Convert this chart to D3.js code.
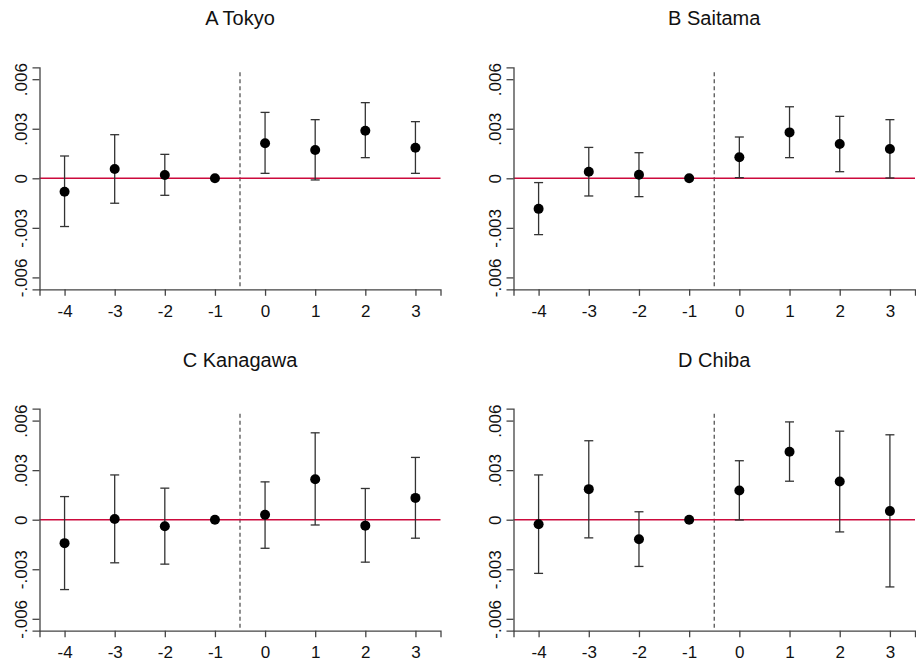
<!DOCTYPE html>
<html>
<head>
<meta charset="utf-8">
<script src="https://cdn.jsdelivr.net/npm/d3@7"></script>
<style>
  body { margin: 0; background: #fff; }
  text { font-family: "Liberation Sans", Arial, sans-serif; }
</style>
</head>
<body>
<svg id="chart" width="916" height="661"></svg>
<script>
// Event-study estimates with confidence intervals, one panel per prefecture
var periods = [-4, -3, -2, -1, 0, 1, 2, 3];
var yTicks = [-0.006, -0.003, 0, 0.003, 0.006];
var yTickLabels = ["-.006", "-.003", "0", ".003", ".006"];

var titles = ["A Tokyo", "B Saitama", "C Kanagawa", "D Chiba"];

var estTokyo = [-0.00081, 0.00056, 0.0002, 0, 0.00212, 0.00171, 0.00288, 0.00185];
var loTokyo  = [-0.00292, -0.00151, -0.00103, 0, 0.0003, -0.0001, 0.00125, 0.0003];
var hiTokyo  = [0.00135, 0.00264, 0.00145, 0, 0.00399, 0.00355, 0.00458, 0.00343];

var estSaitama = [-0.00185, 0.0004, 0.00022, 0, 0.00127, 0.00278, 0.00208, 0.00177];
var loSaitama  = [-0.00341, -0.00107, -0.00111, 0, 0.00004, 0.00125, 0.0004, 0.00002];
var hiSaitama  = [-0.00026, 0.00187, 0.00155, 0, 0.0025, 0.00433, 0.00375, 0.00355];

var estKanagawa = [-0.00142, 0.00004, -0.0004, 0, 0.0003, 0.00245, -0.00036, 0.00132];
var loKanagawa  = [-0.00423, -0.00261, -0.00269, 0, -0.00173, -0.00032, -0.00257, -0.00112];
var hiKanagawa  = [0.0014, 0.00271, 0.00191, 0, 0.00229, 0.00526, 0.00189, 0.00377];

var estChiba = [-0.00028, 0.00185, -0.00118, 0, 0.00177, 0.00411, 0.00231, 0.00052];
var loChiba  = [-0.00325, -0.0011, -0.00283, 0, -0.00002, 0.00233, -0.00074, -0.00407];
var hiChiba  = [0.00271, 0.00478, 0.00048, 0, 0.00357, 0.00592, 0.00536, 0.00514];

var panels = [
    {title: titles[0], est: estTokyo, lo: loTokyo, hi: hiTokyo, x0: 39.5, x1: 440.5, yTop: 67.3, yBot: 289.3},
    {title: titles[1], est: estSaitama, lo: loSaitama, hi: hiSaitama, x0: 513.5, x1: 915, yTop: 67.3, yBot: 289.3},
    {title: titles[2], est: estKanagawa, lo: loKanagawa, hi: hiKanagawa, x0: 39.5, x1: 440.5, yTop: 408.7, yBot: 630.7},
    {title: titles[3], est: estChiba, lo: loChiba, hi: hiChiba, x0: 513.5, x1: 915, yTop: 408.7, yBot: 630.7}
];

var svg = d3.select("#chart");
var axisColor = "#444";

panels.forEach(function(p) {
    var g = svg.append("g");

    var xScale = d3.scaleLinear()
        .domain([-4.5, 3.5])
        .range([p.x0, p.x1]);

    var yScale = d3.scaleLinear()
        .domain([-0.00672, 0.00672])
        .range([p.yBot, p.yTop]);

    // title
    g.append("text")
        .attr("x", (p.x0 + p.x1) / 2)
        .attr("y", p.yTop - 42)
        .attr("text-anchor", "middle")
        .attr("font-size", 20)
        .attr("fill", "#111")
        .text(p.title);

    // reference lines
    g.append("line")
        .attr("x1", xScale(-0.5))
        .attr("x2", xScale(-0.5))
        .attr("y1", yScale.range()[1] + 5)
        .attr("y2", p.yBot)
        .attr("stroke", "#555")
        .attr("stroke-width", 1.3)
        .attr("stroke-dasharray", "4,3");

    g.append("line")
        .attr("x1", p.x0)
        .attr("x2", p.x1)
        .attr("y1", yScale(0))
        .attr("y2", yScale(0))
        .attr("stroke", "#cc0a3c")
        .attr("stroke-width", 1.6);

    // axes
    var xAxis = d3.axisBottom(xScale)
        .tickValues(periods)
        .tickSizeOuter(0)
        .tickSize(6.5)
        .tickPadding(9)
        .tickFormat((d) => String(d));

    var xg = g.append("g")
        .attr("transform", "translate(0," + p.yBot + ")")
        .call(xAxis);
    xg.attr("font-size", null).attr("font-family", null);
    xg.selectAll("text").attr("font-size", 17).attr("fill", "#111");

    var yAxis = d3.axisLeft(yScale)
        .tickValues(yTicks)
        .tickSizeOuter(0)
        .tickSize(7)
        .tickFormat((d, i) => yTickLabels[i]);

    var yg = g.append("g")
        .attr("transform", "translate(" + p.x0 + ",0)")
        .call(yAxis);
    yg.attr("font-size", null).attr("font-family", null);
    yg.selectAll("text")
        .attr("x", null)
        .attr("dy", null)
        .attr("text-anchor", "middle")
        .attr("transform", "translate(-13,0) rotate(-90)")
        .attr("font-size", 17)
        .attr("fill", "#111");

    [xg, yg].forEach(function(a) {
        a.selectAll("path, line").attr("stroke", axisColor).attr("stroke-width", 1.3);
    });

    // confidence intervals
    var idx = d3.range(periods.length).filter((i) => p.hi[i] !== p.lo[i]);
    var ci = g.selectAll(".ci")
        .data(idx)
        .enter()
        .append("g")
        .attr("stroke", "#333")
        .attr("stroke-width", 1.3);

    ci.append("line")
        .attr("x1", (i) => xScale(periods[i]))
        .attr("x2", (i) => xScale(periods[i]))
        .attr("y1", (i) => yScale(p.lo[i]))
        .attr("y2", (i) => yScale(p.hi[i]));

    ci.append("line")
        .attr("x1", (i) => xScale(periods[i]) - 4.5)
        .attr("x2", (i) => xScale(periods[i]) + 4.5)
        .attr("y1", (i) => yScale(p.hi[i]))
        .attr("y2", (i) => yScale(p.hi[i]));

    ci.append("line")
        .attr("x1", (i) => xScale(periods[i]) - 4.5)
        .attr("x2", (i) => xScale(periods[i]) + 4.5)
        .attr("y1", (i) => yScale(p.lo[i]))
        .attr("y2", (i) => yScale(p.lo[i]));

    // point estimates
    g.selectAll(".pt")
        .data(periods)
        .enter()
        .append("circle")
        .attr("cx", (d) => xScale(d))
        .attr("cy", (d, i) => yScale(p.est[i]))
        .attr("r", 5)
        .attr("fill", "#000");
});
</script>
</body>
</html>
